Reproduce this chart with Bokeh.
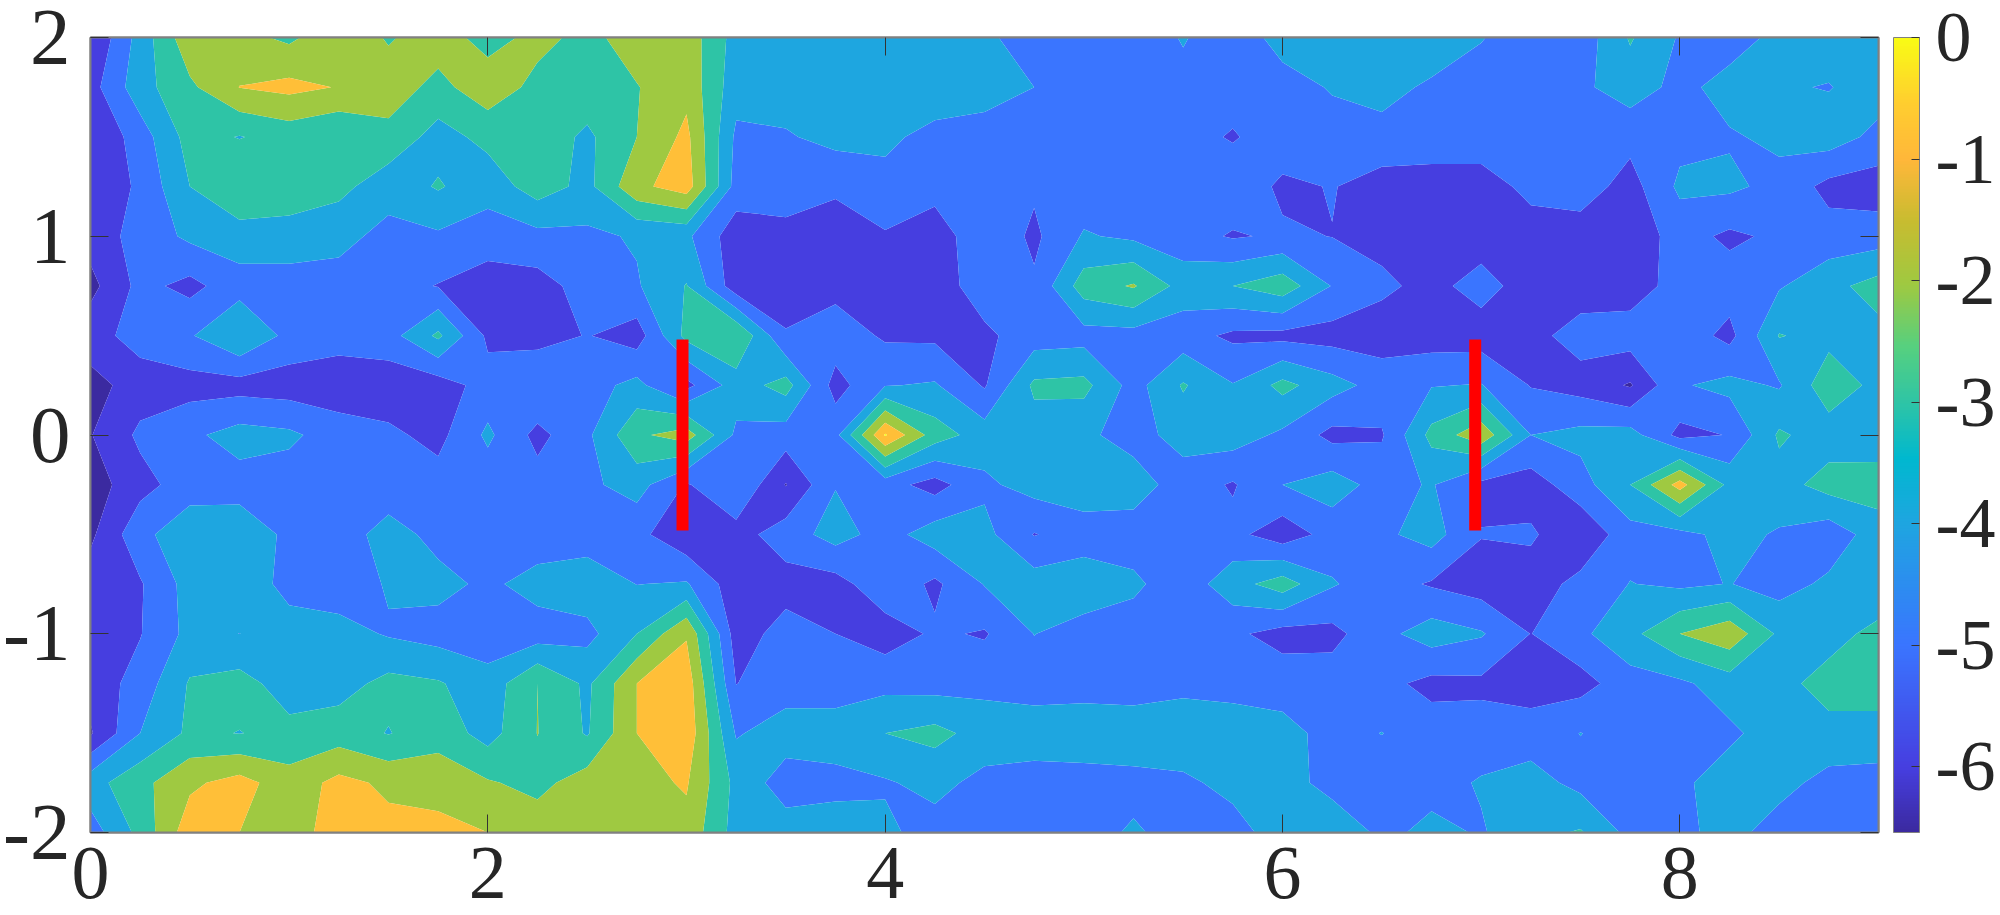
from bokeh.plotting import figure
from bokeh.models import LinearAxis, FixedTicker, ColorBar, LinearColorMapper, Range1d, AllLabels
from bokeh.embed import file_html
from bokeh.resources import INLINE
import numpy as np

x_vals = [i * 0.25 for i in range(37)]
y_vals = [2 - i * 0.25 for i in range(17)]

row_00 = [-6,-3.6,-1.3,-1.7,-2.2,-1.3,-2.1,-1.5,-2.4,-1.7,-2.3,-1.5,-1.4,-3.4,-3.6,-3.5,-3.5,-3.5,-3.8,-4.5,-4.6,-4.8,-3.9,-4.8,-3.5,-3.3,-3.0,-3.2,-3.95,-4.5,-4.6,-2.9,-4.1,-4.5,-3.7,-3.5,-3.5]
row_01 = [-5.4,-3.4,-2.2,-0.98,-0.72,-1.05,-1.5,-2.3,-1.4,-2.3,-2.4,-2.05,-1.3,-3.6,-3.5,-3.4,-3.4,-3.4,-3.5,-4.0,-4.4,-4.6,-4.4,-4.5,-4.5,-3.9,-3.6,-4.2,-4.4,-4.5,-4.2,-3.5,-4.3,-3.6,-3.9,-4.05,-3.5]
row_02 = [-6,-4.5,-2.6,-3.05,-2.6,-3.0,-2.3,-3.4,-2.7,-2.4,-3.2,-2.0,-0.75,-4.2,-4.1,-3.7,-3.8,-4.3,-4.5,-4.5,-4.5,-4.6,-4.6,-5.1,-4.4,-4.5,-4.4,-4.4,-4.4,-4.5,-5.0,-4.7,-4.3,-4.1,-3.8,-3.5,-4.3]
row_03 = [-5.9,-4.8,-3.0,-2.0,-2.3,-2.7,-3.6,-2.9,-3.6,-2.5,-3.3,-1.25,-0.5,-4.4,-4.6,-4.8,-4.3,-4.6,-4.6,-4.85,-4.6,-4.6,-4.7,-4.3,-5.2,-4.95,-5.4,-5.5,-5.5,-4.7,-4.5,-5.4,-3.8,-3.8,-4.3,-5.3,-5.5]
row_04 = [-5.6,-4.6,-3.8,-3.5,-3.5,-3.7,-4.3,-4.15,-4.5,-4.3,-4.2,-3.9,-3.8,-5.6,-5.25,-5.6,-5.1,-5.6,-4.2,-5.2,-3.9,-4.2,-4.6,-5.1,-4.85,-5.02,-5.3,-5.5,-5.5,-5.5,-5.5,-5.6,-4.6,-5.2,-4.8,-4.6,-4.5]
row_05 = [-6.3,-4.7,-5.3,-4.4,-4.4,-4.4,-4.6,-5.05,-5.5,-5.4,-4.6,-4.1,-2.95,-5.6,-5.3,-5.35,-5.6,-5.5,-4.5,-4.85,-2.5,-1.9,-3.4,-3.0,-2.4,-4.05,-4.8,-5.3,-4.6,-5.5,-5.5,-5.5,-4.6,-4.5,-4.1,-3.3,-2.6]
row_06 = [-5.4,-4.6,-4.1,-3.0,-4.3,-4.6,-4.4,-2.8,-5.2,-5.4,-4.95,-5.5,-2.7,-2.0,-4.95,-4.4,-5.15,-5.2,-5.2,-4.5,-4.4,-4.4,-4.6,-5.2,-5.3,-5.4,-5.5,-5.5,-5.5,-5.3,-4.6,-4.5,-4.4,-5.3,-2.95,-3.3,-3.3]
row_07 = [-6.4,-5.5,-5.4,-5.4,-5.5,-5.6,-5.6,-5.5,-4.6,-4.0,-4.4,-3.7,-5.3,-3.5,-2.6,-5.4,-4.05,-3.9,-5.1,-2.8,-2.7,-4.4,-2.9,-3.95,-2.7,-3.6,-4.4,-4.05,-3.95,-5.05,-5.4,-6.1,-4.1,-3.7,-4.1,-2.4,-3.3]
row_08 = [-6.05,-4.8,-4.2,-3.6,-3.8,-4.5,-4.8,-5.3,-3.8,-5.3,-4.2,-2.2,-1.5,-4.2,-4.5,-4.3,0.0,-2.5,-3.5,-3.5,-3.8,-4.4,-3.6,-3.5,-4.2,-5.3,-5.1,-2.7,-1.3,-4.0,-3.7,-3.6,-5.3,-4.95,-2.85,-3.5,-3.6]
row_09 = [-6.5,-5.35,-4.5,-4.4,-4.5,-4.6,-4.6,-4.6,-4.6,-4.6,-4.2,-3.6,-5.1,-4.05,-6.05,-4.05,-4.6,-5.4,-4.2,-3.6,-3.4,-3.5,-4.5,-5.1,-4.0,-3.5,-4.4,-3.9,-5.3,-5.5,-4.4,-3.0,-0.6,-3.3,-3.4,-2.6,-2.5]
row_10 = [-6.2,-4.3,-3.3,-3.4,-4.2,-4.5,-3.6,-4.3,-5.0,-4.6,-4.5,-4.7,-5.8,-5.4,-4.5,-3.6,-4.4,-3.5,-3.7,-5.05,-4.5,-4.5,-4.5,-4.7,-5.6,-4.6,-4.2,-3.6,-4.95,-4.85,-5.8,-4.4,-4.3,-3.7,-4.1,-4.6,-3.5]
row_11 = [-5.5,-5.1,-3.6,-3.4,-4.3,-4.6,-3.9,-3.7,-4.2,-3.6,-3.4,-4.02,-3.9,-5.6,-5.4,-5.4,-4.3,-5.2,-3.95,-3.5,-3.4,-3.8,-4.6,-3.4,-2.5,-3.9,-4.6,-5.1,-5.5,-5.5,-4.7,-3.97,-4.2,-3.97,-4.4,-3.8,-4.0]
row_12 = [-5.5,-5.05,-3.7,-4.01,-3.6,-3.6,-4.1,-4.4,-4.6,-4.5,-4.3,-3.0,-1.1,-5.5,-4.6,-5.0,-5.5,-4.85,-5.1,-3.98,-4.4,-4.5,-4.5,-4.8,-5.4,-5.3,-4.3,-3.5,-3.9,-5.02,-4.2,-3.3,-2.0,-1.3,-3.2,-3.5,-2.6]
row_13 = [-5.6,-4.6,-2.9,-2.6,-3.5,-3.4,-2.7,-2.9,-3.6,-2.0,-3.2,-1.0,-0.4,-5.02,-4.5,-4.5,-4.3,-4.4,-4.3,-4.4,-4.4,-4.4,-4.3,-4.4,-4.4,-4.5,-4.7,-5.3,-5.2,-5.5,-5.4,-4.4,-4.2,-3.5,-3.4,-2.5,-2.5]
row_14 = [-6.1,-4.0,-2.8,-3.03,-2.7,-2.5,-3.05,-2.4,-3.4,-1.98,-3.1,-1.0,-0.3,-4.1,-3.5,-3.5,-3.0,-2.7,-3.4,-3.5,-3.4,-3.5,-3.3,-3.4,-3.7,-4.3,-3.98,-4.5,-4.6,-4.5,-3.98,-4.4,-4.5,-4.2,-3.5,-3.4,-3.4]
row_15 = [-3.4,-2.3,-1.2,-0.6,-1.6,-0.7,-1.2,-1.4,-1.9,-2.3,-1.5,-1.3,-0.9,-3.3,-4.5,-4.3,-4.1,-3.7,-4.3,-4.4,-4.4,-4.25,-4.2,-3.7,-3.4,-4.5,-4.5,-4.4,-3.9,-3.6,-4.3,-4.5,-4.2,-3.5,-3.7,-4.3,-4.4]
row_16 = [-4.5,-2.7,-0.4,-1.0,-1.4,-0.6,-0.7,-0.7,-1.0,-1.4,-1.3,-1.3,-1.3,-3.4,-3.5,-3.5,-3.8,-4.4,-4.5,-4.5,-4.3,-3.9,-4.3,-4.4,-3.5,-3.0,-4.3,-3.7,-4.1,-3.3,-2.9,-4.3,-4.2,-3.7,-4.4,-4.5,-4.6]

levels = [-7, -6, -5, -4, -3, -2, -1, -0.1, 0.01]
band_colors = ["#3B2AA0", "#463EE0", "#3A75FF", "#1EA6E0", "#2EC4A6", "#9FC941", "#FFBF38", "#F9FB15"]

marker_a_x = [2.98, 2.98]
marker_b_x = [6.97, 6.97]
marker_y = [-0.48, 0.48]

x_ticks = [0, 2, 4, 6, 8]
x_labels = {0: "0", 2: "2", 4: "4", 6: "6", 8: "8"}
y_ticks = [-2, -1, 0, 1, 2]
y_labels = {-2: "-2", -1: "-1", 0: "0", 1: "1", 2: "2"}
cb_ticks = [0, -1, -2, -3, -4, -5, -6]
cb_labels = {0: "0", -1: "-1", -2: "-2", -3: "-3", -4: "-4", -5: "-5", -6: "-6"}
cb_low, cb_high = -6.54, 0

anchor_pos = [0, .08, .235, .39, .47, .54, .61, .69, .77, .847, .92, 1]
anchor_hex = ["#3B2AA0", "#463EE0", "#3A75FF", "#1EA6E0", "#00B8CF", "#2EC4A6", "#55D080",
              "#9FC941", "#C8BC30", "#FFB73A", "#FFCE2F", "#F9FB15"]
anchor_rgb = np.array([[int(h[i:i + 2], 16) for i in (1, 3, 5)] for h in anchor_hex], float)
t = np.linspace(0, 1, 256)
palette = ["#%02x%02x%02x" % tuple(int(round(np.interp(v, anchor_pos, anchor_rgb[:, c]))) for c in range(3)) for v in t]

z = np.array([row_00, row_01, row_02, row_03, row_04, row_05, row_06, row_07, row_08,
              row_09, row_10, row_11, row_12, row_13, row_14, row_15, row_16])[::-1]
ys = np.array(y_vals)[::-1]

FONT = "Liberation Serif"
FS = "81px"
TXT = "#262626"

p = figure(frame_width=1788, frame_height=795, output_backend="svg", toolbar_location=None,
           x_range=Range1d(0, 9), y_range=Range1d(-2, 2), min_border_left=88, min_border_top=37,
           min_border_bottom=83, min_border_right=122, background_fill_color="white",
           outline_line_color="#808080", outline_line_width=2)
p.grid.visible = False

p.contour(np.array(x_vals), ys, z, levels, fill_color=band_colors)
p.line(marker_a_x, marker_y, line_color="#FF0000", line_width=12)
p.line(marker_b_x, marker_y, line_color="#FF0000", line_width=12)

def style(ax, ticks, labels=None):
    ax.ticker = FixedTicker(ticks=ticks)
    ax.major_tick_in = 18
    ax.major_tick_out = 0
    ax.minor_tick_line_color = None
    ax.major_tick_line_color = "#333333"
    ax.major_tick_line_width = 1
    ax.axis_line_color = "#808080"
    ax.axis_line_width = 2
    if labels:
        ax.major_label_overrides = labels
        ax.major_label_text_font = FONT
        ax.major_label_text_font_size = FS
        ax.major_label_text_color = TXT
    else:
        ax.major_label_text_font_size = "0px"
        ax.major_label_text_color = None
        ax.major_label_standoff = 0

style(p.xaxis[0], x_ticks, x_labels)
style(p.yaxis[0], y_ticks, y_labels)
p.xaxis[0].major_label_text_font_size = "76px"
p.xaxis[0].major_label_standoff = 15
p.yaxis[0].major_label_standoff = 20
top = LinearAxis(); style(top, x_ticks); p.add_layout(top, "above")
right = LinearAxis(); style(right, y_ticks); p.add_layout(right, "right")

mapper = LinearColorMapper(palette=palette, low=cb_low, high=cb_high)
cb = ColorBar(color_mapper=mapper, ticker=FixedTicker(ticks=cb_ticks), major_label_overrides=cb_labels,
              major_label_policy=AllLabels(), location=(1803, 0), width=26, height=795,
              padding=0, margin=0, label_standoff=16,
              major_label_text_font=FONT, major_label_text_font_size="72px", major_label_text_color=TXT,
              major_tick_in=8, major_tick_line_color="#333333", major_tick_line_width=1,
              minor_tick_line_color=None, bar_line_color="#808080", bar_line_width=1,
              border_line_color=None, background_fill_color=None)
p.add_layout(cb)

open("out.html", "w").write(file_html(p, INLINE))
